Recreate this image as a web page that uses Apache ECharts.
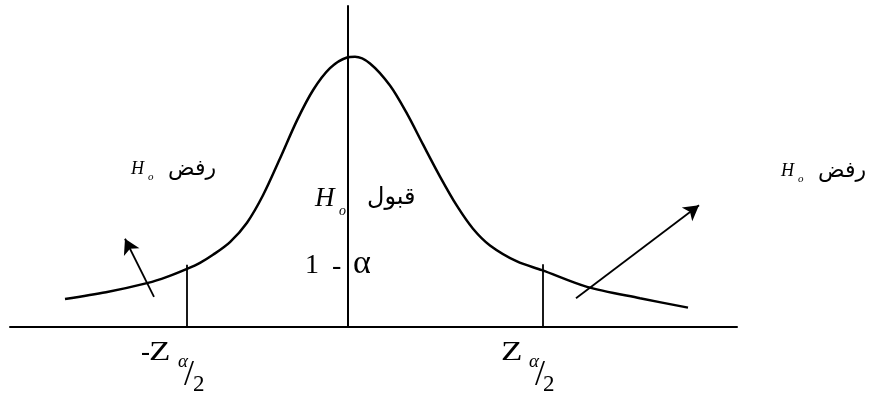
<!DOCTYPE html>
<html>
<head>
<meta charset="utf-8">
<script src="https://cdn.jsdelivr.net/npm/echarts@6/dist/echarts.min.js"></script>
<style>
  html, body { margin: 0; padding: 0; background: #fff; }
  #main { width: 876px; height: 401px; }
</style>
</head>
<body>
<div id="main"></div>
<script>
var myChart = echarts.init(document.getElementById('main'));

// bell curve (z units, density)
var curveX = [-2.83, -2.42, -2.00, -1.81, -1.61, -1.48, -1.35, -1.18, -1.01, -0.85, -0.68, -0.51, -0.35, -0.18,
  -0.01, 0.07, 0.22, 0.42, 0.59, 0.75, 0.92, 1.09, 1.25, 1.42, 1.69, 1.94, 2.39, 2.92, 3.40];
var curveY = [0.042, 0.052, 0.066, 0.075, 0.087, 0.096, 0.108, 0.127, 0.156, 0.197, 0.252, 0.309, 0.354, 0.387,
  0.403, 0.404, 0.394, 0.361, 0.319, 0.273, 0.225, 0.181, 0.147, 0.122, 0.098, 0.085, 0.060, 0.043, 0.029];

// critical values and the height of their marks
var critX = [-1.61, 1.95];
var critH = [0.093, 0.094];

// arrows: [tailX, tailY, tipX, tipY]
var arrowLeft = [-1.94, 0.045, -2.23, 0.132];
var arrowRight = [2.28, 0.043, 3.51, 0.182];

var rejectText = 'رفض';
var acceptText = 'قبول';

var curve = curveX.map(function (x, i) { return [x, curveY[i]]; });

var marks = critX.map(function (x, i) {
  return [{ coord: [x, 0], symbol: 'none' }, { coord: [x, critH[i]], symbol: 'none' }];
});
[arrowLeft, arrowRight].forEach(function (a) {
  marks.push([
    { coord: [a[0], a[1]], symbol: 'none' },
    { coord: [a[2], a[3]], symbol: 'arrow', symbolSize: [13, 15] }
  ]);
});

function txt(x, y, text, size, family, italic, sx) {
  return {
    type: 'text', x: x, y: y, scaleX: sx || 1, silent: true,
    style: {
      text: text, fill: '#000',
      font: (italic ? 'italic ' : '') + size + 'px "' + family + '"',
      align: 'left', verticalAlign: 'middle'
    }
  };
}

var serif = 'Liberation Serif';
var arabic = 'DejaVu Sans';

var option = {
  animation: false,
  backgroundColor: '#fff',
  grid: { left: 10, right: 139, top: 6, bottom: 74 },
  xAxis: {
    type: 'value', min: -3.38, max: 3.89,
    axisLine: { show: true, onZero: true, lineStyle: { color: '#000', width: 2 } },
    axisTick: { show: false }, axisLabel: { show: false }, splitLine: { show: false }
  },
  yAxis: {
    type: 'value', min: 0, max: 0.48,
    axisLine: { show: true, onZero: true, lineStyle: { color: '#000', width: 2 } },
    axisTick: { show: false }, axisLabel: { show: false }, splitLine: { show: false }
  },
  series: [{
    type: 'line',
    data: curve,
    smooth: 0.3,
    showSymbol: false,
    silent: true,
    lineStyle: { color: '#000', width: 2.5 },
    markLine: {
      silent: true,
      animation: false,
      symbol: 'none',
      label: { show: false },
      lineStyle: { color: '#000', width: 1.8, type: 'solid' },
      data: marks
    }
  }],
  graphic: [
    // left rejection label
    txt(168, 169, rejectText, 22, arabic, false),
    txt(131, 169, 'H', 18, serif, true),
    txt(148, 177, 'o', 11, serif, true),
    // right rejection label
    txt(818, 171, rejectText, 22, arabic, false),
    txt(781, 171, 'H', 18, serif, true),
    txt(798, 179, 'o', 11, serif, true),
    // acceptance region
    txt(367, 198, acceptText, 24, arabic, false),
    txt(315, 199, 'H', 27, serif, true),
    txt(339, 211, 'o', 14, serif, true),
    txt(305, 266, '1', 28, serif, false),
    txt(332, 267, '-', 28, serif, false),
    txt(353, 264, 'α', 34, serif, false),
    // critical value labels
    txt(141, 353, '-', 27, serif, false),
    txt(149, 353, 'Z', 27, serif, false, 1.3),
    txt(178, 362, 'α', 19, serif, true),
    txt(184, 376, '/', 36, serif, false),
    txt(193, 385, '2', 23, serif, false),
    txt(501, 353, 'Z', 27, serif, false, 1.3),
    txt(529, 362, 'α', 19, serif, true),
    txt(535, 376, '/', 36, serif, false),
    txt(543, 385, '2', 23, serif, false)
  ]
};
myChart.setOption(option);
</script>
</body>
</html>
